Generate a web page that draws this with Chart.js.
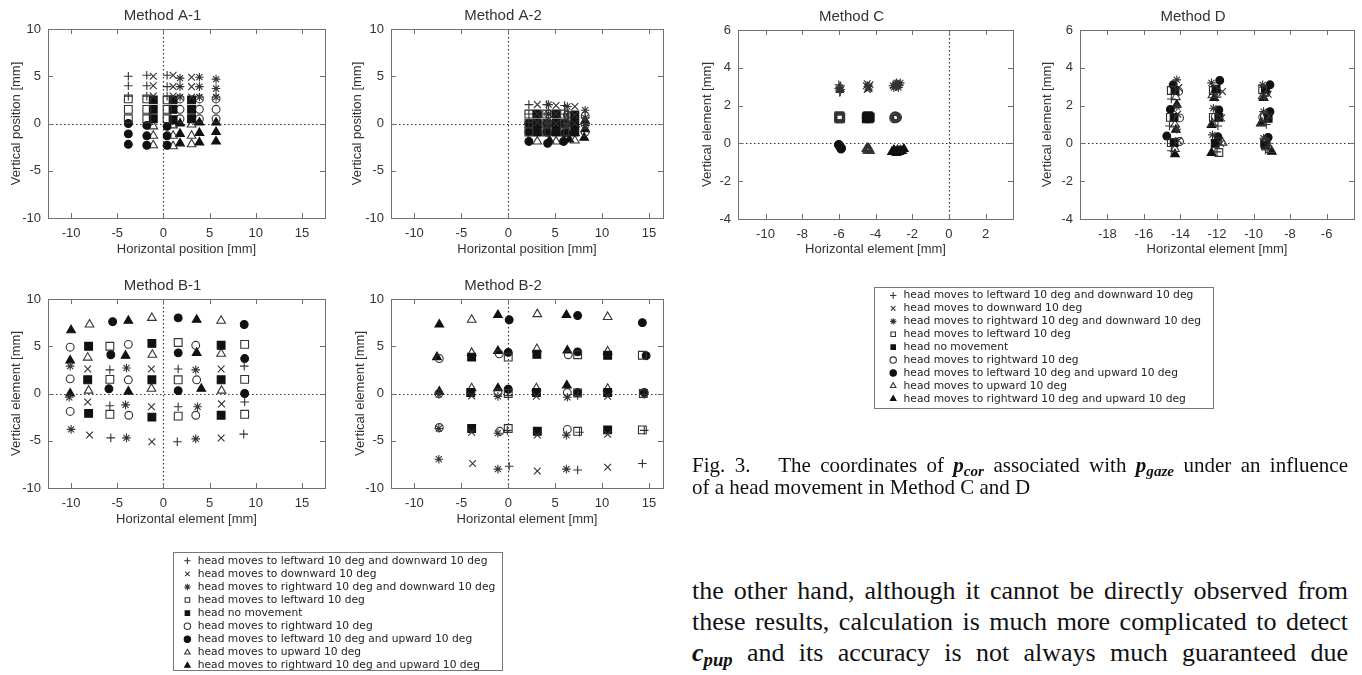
<!DOCTYPE html>
<html>
<head>
<meta charset="utf-8">
<title>Head movement influence on p_cor</title>
<script src="https://cdn.jsdelivr.net/npm/chart.js@4.4.1/dist/chart.umd.min.js"></script>
<style>
  body { margin: 0; width: 1362px; height: 675px; overflow: hidden; position: relative; background: #fff; }
  canvas { position: absolute; }
  .legend-frame { position: absolute; border: 1px solid #777; box-sizing: border-box; }
  .serif { position: absolute; font-family: "Liberation Serif", "Times New Roman", serif; color: #111; }
  .serif div { text-align: justify; text-align-last: justify; }
  .serif div.plain { text-align-last: left; }
  .m { font-weight: bold; font-style: italic; }
  .m sub { font-size: 0.72em; vertical-align: -0.28em; line-height: 0; }
</style>
</head>
<body>

<canvas id="plotA1" width="373" height="262" style="left:0;top:0"></canvas>
<canvas id="plotA2" width="368" height="262" style="left:343px;top:0"></canvas>
<canvas id="plotB1" width="373" height="262" style="left:0;top:270px"></canvas>
<canvas id="plotB2" width="368" height="262" style="left:343px;top:270px"></canvas>
<canvas id="plotC" width="371" height="262" style="left:690px;top:0"></canvas>
<canvas id="plotD" width="370" height="262" style="left:1032px;top:0"></canvas>

<div class="legend-frame" style="left:173px;top:552px;width:330px;height:119px"></div>
<canvas id="legendAB" width="380" height="140" style="left:175px;top:552px"></canvas>
<div class="legend-frame" style="left:874px;top:287px;width:340px;height:122px"></div>
<canvas id="legendCD" width="380" height="130" style="left:876px;top:288px"></canvas>

<div class="serif" style="left:692px;top:454px;width:656px;font-size:21px;line-height:22px">
  <div>Fig. 3.&nbsp;&nbsp; The coordinates of <span class="m">p<sub>cor</sub></span> associated with <span class="m">p<sub>gaze</sub></span> under an influence</div>
  <div class="plain">of a head movement in Method C and D</div>
</div>

<div class="serif" style="left:692px;top:575px;width:656px;font-size:26px;line-height:31px">
  <div>the other hand, although it cannot be directly observed from</div>
  <div>these results, calculation is much more complicated to detect</div>
  <div><span class="m">c<sub>pup</sub></span> and its accuracy is not always much guaranteed due</div>
</div>

<script>
// legend order: +, x, star, open square, filled square, open circle, filled circle, open triangle, filled triangle
const legendLabels = [
  'head moves to leftward 10 deg and downward 10 deg',
  'head moves to downward 10 deg',
  'head moves to rightward 10 deg and downward 10 deg',
  'head moves to leftward 10 deg',
  'head no movement',
  'head moves to rightward 10 deg',
  'head moves to leftward 10 deg and upward 10 deg',
  'head moves to upward 10 deg',
  'head moves to rightward 10 deg and upward 10 deg'
];
const markerStyle = ['cross', 'crossRot', 'star', 'rect', 'rect', 'circle', 'circle', 'triangle', 'triangle'];
const markerFilled = [false, false, false, false, true, false, true, false, true];

const xTicksAB = [-10, -5, 0, 5, 10, 15];
const yTicksAB = [-10, -5, 0, 5, 10];
const xTicksC = [-10, -8, -6, -4, -2, 0, 2];
const xTicksD = [-18, -16, -14, -12, -10, -8, -6];
const yTicksCD = [-4, -2, 0, 2, 4, 6];

const methodA1 = [
  [[-3.8,5.0],[-1.8,5.1],[0.4,5.1],[-3.8,4.0],[-1.8,4.0],[0.4,3.9],[-3.8,2.9],[-1.8,2.9],[0.4,2.9]],
  [[-1.1,5.0],[1.05,5.1],[3.05,4.9],[-1.1,4.0],[1.05,3.9],[3.05,3.9],[-1.1,2.9],[1.05,2.9],[3.05,2.8]],
  [[1.8,4.8],[3.9,4.9],[5.7,4.7],[1.8,3.9],[3.9,3.9],[5.7,3.7],[1.8,2.8],[3.9,2.8],[5.7,2.8]],
  [[-3.8,2.6],[-1.8,2.6],[0.4,2.5],[-3.8,1.5],[-1.8,1.5],[0.4,1.5],[-3.8,0.5],[-1.8,0.5],[0.4,0.5]],
  [[-1.1,2.5],[1.05,2.5],[3.05,2.5],[-1.1,1.5],[1.05,1.5],[3.05,1.5],[-1.1,0.5],[1.05,0.4],[3.05,0.5]],
  [[1.8,2.6],[3.9,2.6],[5.7,2.6],[1.8,1.5],[3.9,1.5],[5.7,1.5],[1.8,0.5],[3.9,0.5],[5.7,0.5]],
  [[-3.8,0.0],[-1.8,-0.2],[0.4,-0.3],[-3.8,-1.1],[-1.8,-1.3],[0.4,-1.3],[-3.8,-2.2],[-1.8,-2.3],[0.4,-2.3]],
  [[-1.1,-0.3],[1.05,-0.2],[3.05,-0.1],[-1.1,-1.3],[1.05,-1.3],[3.05,-1.3],[-1.1,-2.3],[1.05,-2.4],[3.05,-2.2]],
  [[1.8,0.0],[3.9,0.1],[5.7,0.1],[1.8,-1.1],[3.9,-1.0],[5.7,-0.9],[1.8,-2.1],[3.9,-2.0],[5.7,-1.9]]
];

const methodA2 = [
  [[2.2,2.0],[4.1,2.0],[6.0,1.9],[2.2,1.0],[4.1,1.0],[6.0,1.0],[2.2,0.1],[4.1,0.1],[6.0,0.0]],
  [[3.1,2.0],[5.1,1.9],[7.1,1.8],[3.1,1.0],[5.1,1.0],[7.1,0.9],[3.1,0.1],[5.1,0.0],[7.1,0.0]],
  [[4.3,2.0],[6.3,1.8],[8.2,1.4],[4.3,1.0],[6.3,0.9],[8.2,0.6],[4.3,0.0],[6.3,-0.1],[8.2,-0.2]],
  [[2.2,1.0],[4.1,1.0],[6.0,1.0],[2.2,0.0],[4.1,0.0],[6.0,0.0],[2.2,-0.9],[4.1,-0.9],[6.0,-0.9]],
  [[3.1,1.0],[5.1,1.0],[7.1,0.9],[3.1,0.0],[5.1,0.0],[7.1,0.0],[3.1,-0.9],[5.1,-0.9],[7.1,-0.9]],
  [[4.3,1.0],[6.3,0.9],[8.2,0.8],[4.3,0.0],[6.3,0.0],[8.2,-0.1],[4.3,-0.9],[6.3,-0.9],[8.2,-0.9]],
  [[2.2,0.0],[4.1,0.0],[6.0,0.0],[2.2,-0.9],[4.1,-0.9],[6.0,-1.0],[2.2,-1.9],[4.2,-2.1],[5.9,-1.9]],
  [[3.1,-0.1],[5.1,-0.1],[7.1,-0.1],[3.1,-1.0],[5.1,-1.0],[7.1,-1.0],[3.1,-1.9],[5.1,-1.9],[7.1,-1.8]],
  [[4.3,0.0],[6.3,0.0],[8.2,0.3],[4.3,-0.9],[6.3,-0.9],[8.2,-0.6],[4.4,-1.8],[6.5,-1.7],[8.1,-1.5]]
];

const methodB1 = [
  [[-5.8,2.5],[1.6,2.6],[8.75,2.9],[-5.8,-1.3],[1.6,-1.4],[8.8,-0.9],[-5.7,-4.7],[1.5,-5.1],[8.7,-4.3]],
  [[-8.2,2.6],[-1.3,2.6],[6.25,2.6],[-8.2,-0.9],[-1.3,-1.4],[6.3,-1.1],[-8.0,-4.4],[-1.25,-5.1],[6.25,-4.7]],
  [[-10.1,2.9],[-4.0,2.7],[3.5,2.5],[-10.2,-0.4],[-4.1,-1.2],[3.7,-1.4],[-10.0,-3.8],[-4.0,-4.7],[3.5,-4.8]],
  [[-5.8,5.0],[1.6,5.4],[8.8,5.2],[-5.8,1.5],[1.6,1.45],[8.8,1.5],[-5.8,-2.2],[1.6,-2.4],[8.8,-2.2]],
  [[-8.1,5.0],[-1.25,5.3],[6.25,5.1],[-8.2,1.45],[-1.25,1.45],[6.25,1.45],[-8.1,-2.1],[-1.25,-2.5],[6.25,-2.3]],
  [[-10.1,4.9],[-3.8,5.2],[3.5,5.1],[-10.1,1.55],[-3.8,1.45],[3.6,1.45],[-10.1,-1.9],[-3.75,-2.3],[3.5,-2.3]],
  [[-5.5,7.6],[1.6,8.0],[8.75,7.3],[-5.7,4.1],[1.6,4.3],[8.8,3.7],[-5.9,0.5],[1.6,0.3],[8.8,0.0]],
  [[-8.0,7.3],[-1.25,8.0],[6.25,7.7],[-8.2,3.8],[-1.2,4.1],[6.25,4.2],[-8.1,0.3],[-1.3,0.5],[6.3,0.3]],
  [[-10.0,6.7],[-3.8,7.7],[3.6,7.8],[-10.1,3.5],[-4.1,4.0],[3.6,4.3],[-10.1,0.0],[-3.8,0.2],[4.1,0.5]]
];

const methodB2 = [
  [[0.0,-0.2],[7.4,-0.2],[14.5,-0.1],[-0.1,-3.9],[7.6,-4.1],[14.5,-3.9],[0.1,-7.7],[7.4,-8.1],[14.3,-7.4]],
  [[-3.9,-0.25],[3.0,-0.3],[10.6,-0.3],[-3.9,-4.1],[3.1,-4.4],[10.6,-4.3],[-3.8,-7.4],[3.1,-8.2],[10.6,-7.8]],
  [[-7.4,-0.1],[-1.1,-0.3],[6.3,-0.4],[-7.4,-3.7],[-1.1,-4.2],[6.2,-4.4],[-7.4,-6.95],[-1.1,-8.0],[6.2,-8.0]],
  [[0.0,3.85],[7.4,4.1],[14.3,4.05],[0.0,0.0],[7.4,0.05],[14.4,0.0],[0.0,-3.7],[7.4,-4.0],[14.3,-3.85]],
  [[-3.9,3.85],[3.05,4.15],[10.6,4.05],[-4.0,0.1],[3.0,0.1],[10.6,0.1],[-3.9,-3.7],[3.1,-4.0],[10.6,-3.85]],
  [[-7.35,3.7],[-0.96,4.2],[6.4,4.1],[-7.4,0.0],[-1.1,0.1],[6.3,0.1],[-7.35,-3.6],[-0.9,-4.0],[6.3,-3.8]],
  [[0.1,7.8],[7.4,8.25],[14.3,7.5],[0.0,4.35],[7.4,4.4],[14.7,4.0],[0.0,0.45],[7.4,0.1],[14.5,0.1]],
  [[-3.9,7.8],[3.1,8.4],[10.6,8.1],[-3.9,4.3],[3.05,4.7],[10.6,4.45],[-3.9,0.55],[3.0,0.55],[10.6,0.5]],
  [[-7.35,7.3],[-1.1,8.3],[6.2,8.3],[-7.6,3.85],[-1.1,4.5],[6.3,4.55],[-7.35,0.2],[-1.1,0.55],[6.25,0.85]]
];

const methodC = [
  [[-5.95,2.7],[-5.95,2.8],[-5.9,2.85],[-6.0,2.9],[-5.95,3.0],[-5.9,3.05],[-6.0,3.1],[-5.95,2.95],[-5.92,2.75]],
  [[-4.45,2.85],[-4.35,2.9],[-4.4,3.0],[-4.5,3.05],[-4.3,3.1],[-4.4,2.95],[-4.45,3.15],[-4.35,3.0],[-4.4,2.9]],
  [[-3.0,2.95],[-2.9,3.0],[-2.8,3.05],[-2.7,3.1],[-2.65,3.2],[-2.9,3.15],[-3.05,3.05],[-2.75,2.95],[-2.85,3.2]],
  [[-6.0,1.3],[-5.95,1.35],[-5.9,1.4],[-6.0,1.45],[-5.92,1.3],[-5.97,1.42],[-5.9,1.35],[-6.02,1.38],[-5.95,1.45]],
  [[-4.5,1.3],[-4.4,1.35],[-4.3,1.4],[-4.45,1.45],[-4.35,1.3],[-4.4,1.42],[-4.3,1.35],[-4.5,1.4],[-4.38,1.45]],
  [[-3.0,1.3],[-2.9,1.35],[-2.8,1.4],[-2.95,1.45],[-2.85,1.32],[-2.9,1.45],[-3.0,1.4],[-2.82,1.35],[-2.92,1.3]],
  [[-6.0,-0.05],[-5.95,-0.1],[-5.9,-0.2],[-5.85,-0.25],[-5.95,-0.15],[-6.02,-0.08],[-5.88,-0.3],[-5.92,-0.22],[-5.97,-0.12]],
  [[-4.45,-0.25],[-4.35,-0.3],[-4.4,-0.35],[-4.5,-0.3],[-4.3,-0.4],[-4.4,-0.25],[-4.45,-0.38],[-4.35,-0.35],[-4.4,-0.28]],
  [[-3.1,-0.45],[-2.95,-0.4],[-2.8,-0.35],[-2.7,-0.45],[-2.55,-0.4],[-2.45,-0.3],[-2.85,-0.5],[-3.0,-0.35],[-2.65,-0.38]]
];

const methodD = [
  [[-14.5,2.35],[-14.6,0.92],[-14.5,-0.39],[-12.0,2.45],[-11.95,0.92],[-12.0,-0.45],[-9.4,2.5],[-9.3,1.0],[-9.35,-0.35]],
  [[-14.1,2.95],[-14.15,1.55],[-14.1,0.15],[-11.7,2.74],[-11.75,1.35],[-11.8,0.0],[-9.2,2.6],[-9.15,1.45],[-9.2,-0.15]],
  [[-14.2,3.36],[-14.2,1.95],[-14.2,0.75],[-12.3,3.2],[-12.2,1.86],[-12.25,0.45],[-9.5,3.1],[-9.45,1.68],[-9.45,0.27]],
  [[-14.5,2.8],[-14.55,1.38],[-14.5,0.04],[-12.2,2.8],[-12.2,1.38],[-11.9,-0.48],[-9.5,2.85],[-9.4,1.4],[-9.4,0.0]],
  [[-14.3,2.8],[-14.35,1.38],[-14.35,0.04],[-12.05,2.87],[-11.9,1.38],[-12.1,0.0],[-9.35,2.83],[-9.2,1.33],[-9.35,-0.09]],
  [[-14.1,2.75],[-14.05,1.35],[-14.05,0.1],[-12.1,1.4],[-12.0,2.7],[-11.95,0.1],[-9.5,1.38],[-9.3,2.7],[-9.3,0.1]],
  [[-14.4,3.1],[-14.55,1.8],[-14.75,0.39],[-11.85,3.33],[-11.9,1.77],[-11.95,0.35],[-9.1,3.1],[-9.1,1.68],[-9.2,0.32]],
  [[-14.25,2.45],[-14.3,1.0],[-14.3,-0.3],[-12.25,2.55],[-12.25,1.05],[-11.7,0.04],[-9.5,2.5],[-9.55,1.1],[-9.05,-0.35]],
  [[-14.2,2.05],[-14.25,0.72],[-14.3,-0.57],[-12.15,2.4],[-12.3,0.97],[-12.3,-0.5],[-9.45,2.4],[-9.6,1.06],[-9.0,-0.44]]
];

const SANS = '"Liberation Sans", Arial, sans-serif';
const TEXT = '#333';
const markerRadius = { cross: 4.3, crossRot: 4.8, star: 4.3, rect: 5.5, circle: 3.9, triangle: 5 };

// frame, inward tick marks and dotted zero lines (gnuplot look)
const frameLines = {
  id: 'frameLines',
  beforeDatasetsDraw(chart) {
    const { ctx, chartArea: a } = chart;
    const x = chart.scales.x, y = chart.scales.y;
    ctx.save();
    ctx.strokeStyle = '#333';
    ctx.lineWidth = 1.2;
    ctx.setLineDash([1.5, 2.5]);
    const x0 = Math.round(x.getPixelForValue(0)) + 0.5;
    const y0 = Math.round(y.getPixelForValue(0)) + 0.5;
    ctx.beginPath();
    if (x0 > a.left && x0 < a.right) { ctx.moveTo(x0, a.top); ctx.lineTo(x0, a.bottom); }
    if (y0 > a.top && y0 < a.bottom) { ctx.moveTo(a.left, y0); ctx.lineTo(a.right, y0); }
    ctx.stroke();
    ctx.setLineDash([]);
    ctx.lineWidth = 1;
    ctx.strokeStyle = '#707070';
    ctx.strokeRect(Math.round(a.left) + 0.5, Math.round(a.top) + 0.5,
                   Math.round(a.right - a.left), Math.round(a.bottom - a.top));
    ctx.beginPath();
    x.ticks.forEach(t => {
      const p = Math.round(x.getPixelForValue(t.value)) + 0.5;
      ctx.moveTo(p, a.bottom); ctx.lineTo(p, a.bottom - 5);
      ctx.moveTo(p, a.top); ctx.lineTo(p, a.top + 5);
    });
    y.ticks.forEach(t => {
      const p = Math.round(y.getPixelForValue(t.value)) + 0.5;
      ctx.moveTo(a.left, p); ctx.lineTo(a.left + 5, p);
      ctx.moveTo(a.right, p); ctx.lineTo(a.right - 5, p);
    });
    ctx.stroke();
    ctx.restore();
  }
};

function seriesDatasets(series) {
  return series.map((pts, i) => ({
    label: legendLabels[i],
    data: pts.map(p => ({ x: p[0], y: p[1] })),
    pointStyle: markerStyle[i],
    pointRadius: markerRadius[markerStyle[i]],
    pointHoverRadius: markerRadius[markerStyle[i]],
    borderWidth: 1.1,
    borderColor: markerFilled[i] ? '#111' : '#333',
    backgroundColor: markerFilled[i] ? '#111' : 'rgba(0,0,0,0)'
  }));
}

function axis(min, max, ticks, title, isX, size, titlePad) {
  return {
    type: 'linear', min: min, max: max,
    afterBuildTicks: s => { s.ticks = ticks.map(v => ({ value: v })); },
    afterFit: s => { if (isX) s.height = size; else s.width = size; },
    grid: { display: false, drawTicks: false },
    border: { display: false },
    ticks: {
      color: TEXT, autoSkip: false, maxRotation: 0, padding: isX ? 8 : 7,
      font: { family: SANS, size: 13 },
      callback: v => String(v)
    },
    title: {
      display: true, text: title, color: TEXT,
      font: { family: SANS, size: 13 },
      padding: isX ? { top: 0, bottom: titlePad } : { top: titlePad, bottom: 0 }
    }
  };
}

function scatterPlot(id, o) {
  new Chart(document.getElementById(id), {
    type: 'scatter',
    data: { datasets: seriesDatasets(o.series) },
    options: {
      responsive: false, animation: false, events: [],
      layout: { padding: { right: 48 } },
      plugins: {
        legend: { display: false },
        tooltip: { enabled: false },
        title: {
          display: true, text: o.title, color: TEXT,
          font: { family: SANS, size: 15, weight: 'normal' },
          padding: { top: o.titleTop, bottom: 4 }
        }
      },
      scales: {
        x: axis(o.xRange[0], o.xRange[1], o.xTicks, o.xTitle, true, o.xAxisH, 5),
        y: axis(o.yRange[0], o.yRange[1], o.yTicks, o.yTitle, false, 48, o.yTitlePad)
      }
    },
    plugins: [frameLines]
  });
}

function legendBox(id, pad, padLeft, padTop) {
  new Chart(document.getElementById(id), {
    type: 'scatter',
    data: { datasets: seriesDatasets(legendLabels.map(() => [])) },
    options: {
      responsive: false, animation: false, events: [],
      layout: { padding: { left: padLeft, top: padTop } },
      scales: { x: { display: false }, y: { display: false } },
      plugins: {
        tooltip: { enabled: false },
        legend: {
          display: true, position: 'left', align: 'start', maxWidth: 370,
          labels: {
            usePointStyle: true, boxWidth: 10, boxHeight: 4.5, padding: pad,
            color: '#222', font: { family: '"DejaVu Sans", sans-serif', size: 10.7 }
          }
        }
      }
    }
  });
}

scatterPlot('plotA1', { title: 'Method A-1', series: methodA1, xRange: [-12.5, 17.5], yRange: [-10, 10],
  xTicks: xTicksAB, yTicks: yTicksAB, xTitle: 'Horizontal position [mm]', yTitle: 'Vertical position [mm]',
  titleTop: 7, xAxisH: 44, yTitlePad: 9 });
scatterPlot('plotA2', { title: 'Method A-2', series: methodA2, xRange: [-12.5, 16.5], yRange: [-10, 10],
  xTicks: xTicksAB, yTicks: yTicksAB, xTitle: 'Horizontal position [mm]', yTitle: 'Vertical position [mm]',
  titleTop: 7, xAxisH: 44, yTitlePad: 7 });
scatterPlot('plotB1', { title: 'Method B-1', series: methodB1, xRange: [-12.5, 17.5], yRange: [-10, 10],
  xTicks: xTicksAB, yTicks: yTicksAB, xTitle: 'Horizontal element [mm]', yTitle: 'Vertical element [mm]',
  titleTop: 7, xAxisH: 44, yTitlePad: 9 });
scatterPlot('plotB2', { title: 'Method B-2', series: methodB2, xRange: [-12.5, 16.5], yRange: [-10, 10],
  xTicks: xTicksAB, yTicks: yTicksAB, xTitle: 'Horizontal element [mm]', yTitle: 'Vertical element [mm]',
  titleTop: 7, xAxisH: 44, yTitlePad: 10 });
scatterPlot('plotC', { title: 'Method C', series: methodC, xRange: [-11.5, 3.5], yRange: [-4, 6],
  xTicks: xTicksC, yTicks: yTicksCD, xTitle: 'Horizontal element [mm]', yTitle: 'Vertical element [mm]',
  titleTop: 8, xAxisH: 43, yTitlePad: 10 });
scatterPlot('plotD', { title: 'Method D', series: methodD, xRange: [-19.5, -4.5], yRange: [-4, 6],
  xTicks: xTicksD, yTicks: yTicksCD, xTitle: 'Horizontal element [mm]', yTitle: 'Vertical element [mm]',
  titleTop: 8, xAxisH: 43, yTitlePad: 8 });

legendBox('legendAB', 2.4, 5, 1);
legendBox('legendCD', 2.2, 10, 0);
</script>
</body>
</html>
